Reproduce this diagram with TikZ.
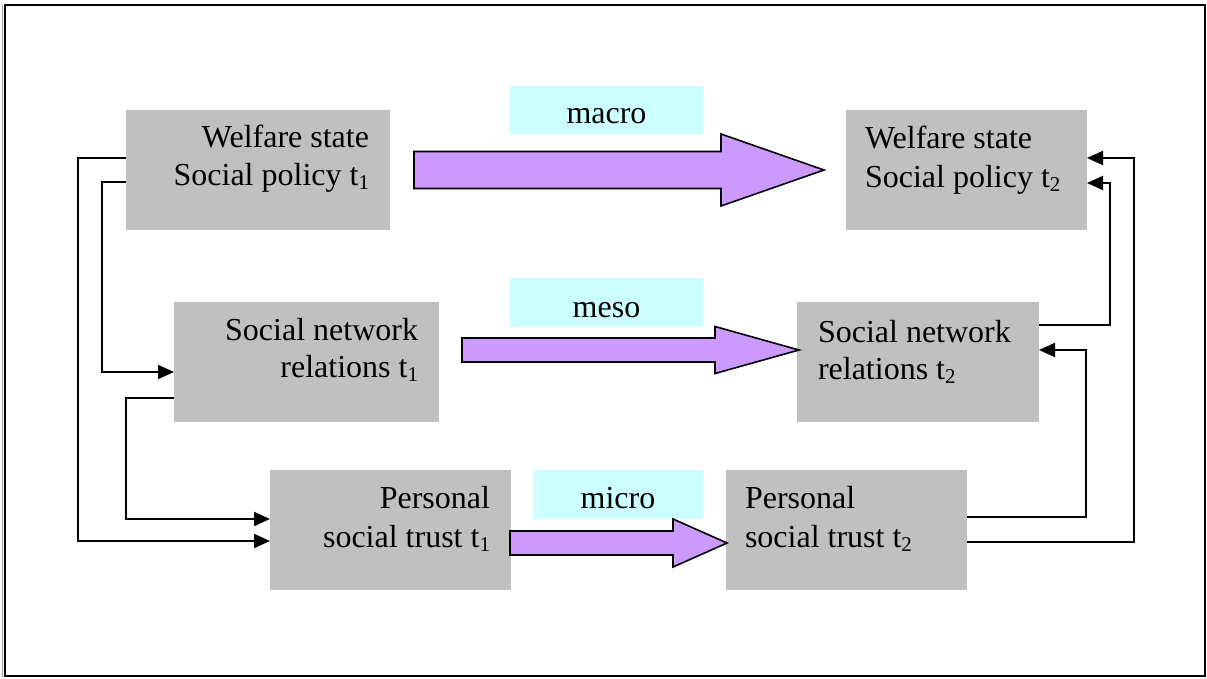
\documentclass[tikz,border=0pt]{standalone}
\usepackage{fontspec}
\setmainfont{Liberation Serif}
\usetikzlibrary{arrows.meta}
\definecolor{boxgray}{HTML}{C0C0C0}
\definecolor{lvlcyan}{HTML}{CCFFFF}
\definecolor{flowviolet}{HTML}{CC99FF}
% time index written as t with a lowered small digit
\newcommand{\tidx}[1]{t\raisebox{-4pt}{\fontsize{21}{21}\selectfont #1}}
% block arrow: start x, centre y, shaft half-height, head base x, head half-height, tip x
\newcommand{\flowarrow}[6]{%
  \draw[flow] (#1,#2-#3) -- (#4,#2-#3) -- (#4,#2-#5) -- (#6,#2)
    -- (#4,#2+#5) -- (#4,#2+#3) -- (#1,#2+#3) -- cycle;}
\begin{document}
\begin{tikzpicture}[x=1pt,y=-1pt,
  box/.style={rectangle,fill=boxgray,draw=none,inner sep=0pt,outer sep=0pt,
    minimum height=120pt,anchor=north west},
  txt/.style={inner sep=0pt,outer sep=0pt,font=\fontsize{32}{38}\selectfont},
  level/.style={rectangle,fill=lvlcyan,draw=none,inner xsep=0pt,inner ysep=0pt,
    outer sep=0pt,anchor=north west,font=\fontsize{32}{38}\selectfont},
  flow/.style={fill=flowviolet,draw=black,line width=1.6pt,line join=miter},
  link/.style={draw=black,line width=2pt,-{Triangle[length=16pt,width=14pt]}}]
\useasboundingbox (0,0) rectangle (1207,678);
% outer frame
\draw[black!40,line width=1pt] (2.5,5) -- (2.5,677);
\draw[line width=1.8pt] (4.8,4.8) rectangle (1205,676);

% boxes
\node[box,minimum width=264pt] (w1) at (126,110) {};
\node[box,minimum width=241pt] (w2) at (846,110) {};
\node[box,minimum width=265pt] (s1) at (174,302) {};
\node[box,minimum width=242pt] (s2) at (797,302) {};
\node[box,minimum width=241pt] (p1) at (270,470) {};
\node[box,minimum width=241pt] (p2) at (726,470) {};

% box texts
\node[txt,anchor=base east] (w1a) at (369,147) {Welfare state};
\node[txt,anchor=base east] (w1b) at (369,185) {Social policy \tidx{1}};
\node[txt,anchor=base west] (w2a) at (865,148) {Welfare state};
\node[txt,anchor=base west] (w2b) at (865,187) {Social policy \tidx{2}};
\node[txt,anchor=base east] (s1a) at (418,340) {Social network};
\node[txt,anchor=base east] (s1b) at (418,377) {relations \tidx{1}};
\node[txt,anchor=base west] (s2a) at (818,342) {Social network};
\node[txt,anchor=base west] (s2b) at (818,379) {relations \tidx{2}};
\node[txt,anchor=base east] (p1a) at (490,508) {Personal};
\node[txt,anchor=base east] (p1b) at (490,547) {social trust \tidx{1}};
\node[txt,anchor=base west] (p2a) at (745,508) {Personal};
\node[txt,anchor=base west] (p2b) at (745,547) {social trust \tidx{2}};

% level labels
\node[level,minimum width=193pt,text height=37pt,text depth=11pt] (macro) at (510,86) {macro};
\node[level,minimum width=193pt,text height=39pt,text depth=10pt] (meso) at (510,278) {meso};
\node[level,minimum width=170pt,text height=38pt,text depth=11pt] (micro) at (533,470) {micro};

% block arrows between the two time points
\flowarrow{414}{170}{18.5}{721}{36}{824}
\flowarrow{462}{350}{12}{715}{23.5}{799}
\flowarrow{510}{543}{12}{673}{24}{727}

% feedback links on the left
\draw[link] ([yshift=-48pt]w1.north west) -- ++(-48,0) |- ([yshift=-71pt]p1.north west);
\draw[link] ([yshift=-72pt]w1.north west) -- ++(-24,0) |- ([yshift=-70pt]s1.north west);
\draw[link] ([yshift=-96pt]s1.north west) -- ++(-48,0) |- ([yshift=-49pt]p1.north west);
% feedback links on the right
\draw[link] ([yshift=-47pt]p2.north east) -- ++(119,0) |- ([yshift=-48pt]s2.north east);
\draw[link] ([yshift=-72pt]p2.north east) -- ++(167,0) |- ([yshift=-48pt]w2.north east);
\draw[link] ([yshift=-23pt]s2.north east) -- ++(71,0) |- ([yshift=-73pt]w2.north east);
\end{tikzpicture}
\end{document}
